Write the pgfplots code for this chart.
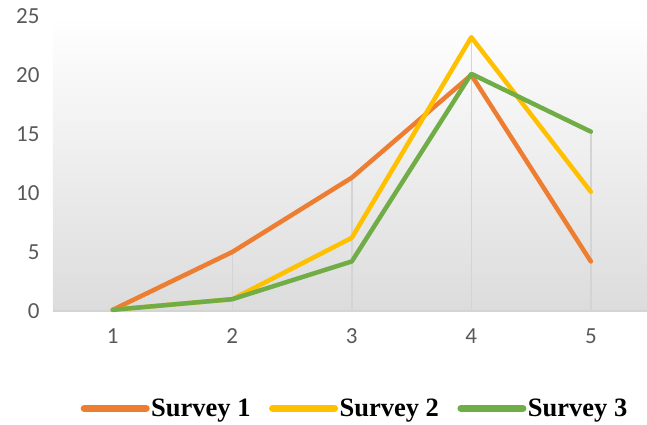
\documentclass[border=0pt]{standalone}
\usepackage{pgfplots}
\pgfplotsset{compat=1.18}
\usepackage{fontspec}
\setmainfont{Carlito}
\newfontfamily\legfont{Liberation Serif}
\definecolor{s1}{HTML}{ED7D31}
\definecolor{s2}{HTML}{FFC000}
\definecolor{s3}{HTML}{70AD47}
\definecolor{tickgray}{HTML}{595959}
\definecolor{dropgray}{HTML}{D4D4D4}
\definecolor{bggray}{HTML}{DCDCDC}
\begin{document}
\begin{tikzpicture}
\path[use as bounding box] (-53pt,-114pt) rectangle (594pt,311pt);
\begin{axis}[
  scale only axis,
  width=594pt, height=295pt,
  xmin=0.5, xmax=5.47, ymin=0, ymax=25,
  xtick={1,2,3,4,5}, ytick={0,5,10,15,20,25},
  major tick length=0pt,
  axis lines*=left,
  y axis line style={draw=none},
  x axis line style={draw=dropgray, line width=2pt},
  axis background/.style={shade, top color=white, bottom color=bggray},
  tick label style={font=\fontsize{23}{26}\selectfont, text=tickgray},
  /pgf/number format/assume math mode=true,
  xticklabel style={yshift=-14pt},
  yticklabel style={xshift=-10pt},
  clip=false,
  legend columns=3,
  legend style={at={(axis description cs:0.508,-0.33)}, anchor=center, draw=none, fill=none,
    font=\legfont\bfseries\fontsize{26.5}{29}\selectfont,
    nodes={inner sep=1.5pt},
    /tikz/every even column/.append style={column sep=17pt},
    inner sep=0pt},
  legend image code/.code={\draw[#1, line width=7pt, line cap=round] (0pt,0pt) -- (62pt,0pt);},
]
\addplot[ycomb, draw=dropgray, line width=1.5pt, forget plot] coordinates {(2,5) (3,11.3) (4,23.2) (5,15.2)};
\addplot[s1, line width=4.5pt, line join=round, line cap=round] coordinates {(1,0.1) (2,5) (3,11.3) (4,20) (5,4.2)};
\addplot[s2, line width=4.5pt, line join=round, line cap=round] coordinates {(1,0.1) (2,1) (3,6.2) (4,23.2) (5,10.1)};
\addplot[s3, line width=4.5pt, line join=round, line cap=round] coordinates {(1,0.1) (2,1) (3,4.2) (4,20.1) (5,15.2)};
\legend{Survey 1, Survey 2, Survey 3}
\end{axis}
\end{tikzpicture}
\end{document}
